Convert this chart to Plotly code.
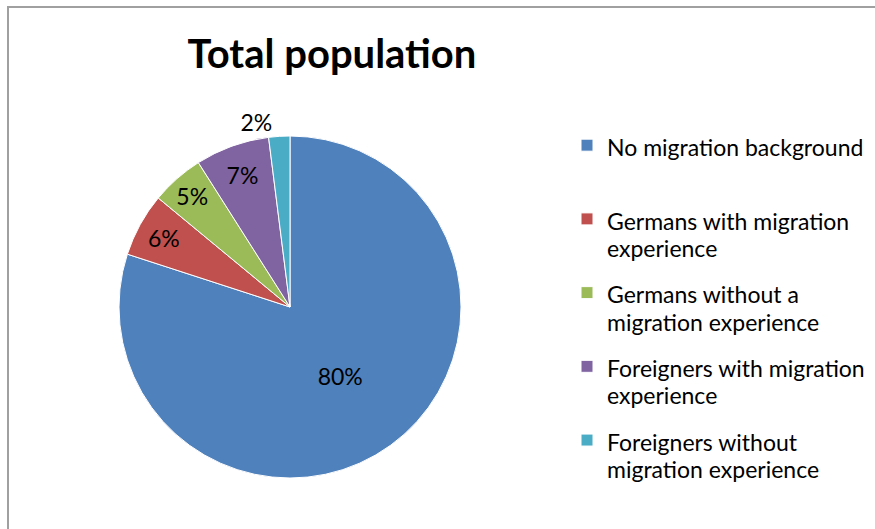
import plotly.graph_objects as go

first_lines = [
    "No migration background",
    "Germans with migration",
    "Germans without a",
    "Foreigners with migration",
    "Foreigners without",
]
second_lines = [
    " ",
    "experience",
    "migration experience",
    "experience",
    "migration experience",
]
values = [80, 6, 5, 7, 2]
colors = ["#4F81BD", "#C0504D", "#9BBB59", "#8064A2", "#4BACC6"]
text_positions = ["inside", "inside", "inside", "inside", "outside"]

W, H = 875, 529
cx, cy, r = 290, 307, 171

legend_labels = [
    "<span style='font-size:23px'>%s</span><br>"
    "<span style='font-size:23px;baseline-shift:8px'>%s</span>" % (a, b)
    for a, b in zip(first_lines, second_lines)
]

fig = go.Figure(
    go.Pie(
        labels=legend_labels,
        values=values,
        sort=False,
        direction="clockwise",
        rotation=0,
        marker=dict(colors=colors, line=dict(color="white", width=1)),
        textinfo="percent",
        texttemplate="%{percent:.0%}",
        textposition=text_positions,
        insidetextorientation="horizontal",
        textfont=dict(family="Lato", size=23, color="black"),
        insidetextfont=dict(family="Lato", size=23, color="black"),
        outsidetextfont=dict(family="Lato", size=23, color="black"),
        domain=dict(
            x=[(cx - r) / W, (cx + r) / W],
            y=[(H - cy - r) / H, (H - cy + r) / H],
        ),
        hoverinfo="percent",
    )
)

fig.update_layout(
    width=W,
    height=H,
    margin=dict(l=0, r=0, t=0, b=0),
    paper_bgcolor="white",
    plot_bgcolor="white",
    title=dict(
        text="<b>Total population</b>",
        font=dict(family="Lato", size=40, color="black"),
        x=332 / W,
        xanchor="center",
        xref="paper",
        y=1 - 54 / H,
        yanchor="middle",
        yref="container",
    ),
    legend=dict(
        x=567 / W,
        xanchor="left",
        y=1 - 121 / H,
        yanchor="top",
        valign="top",
        font=dict(family="Lato", size=27.2, color="black"),
        bgcolor="rgba(0,0,0,0)",
        borderwidth=0,
    ),
    shapes=[
        dict(
            type="rect",
            xref="paper",
            yref="paper",
            x0=8 / W,
            x1=1.05,
            y0=-0.05,
            y1=1 - 7 / H,
            line=dict(color="#A0A0A0", width=2),
            fillcolor="rgba(0,0,0,0)",
            layer="below",
        )
    ],
)

fig.write_html(
    "out.html",
    config={"displayModeBar": False},
    post_script="document.body.style.margin='0';document.body.style.overflow='hidden';",
)
